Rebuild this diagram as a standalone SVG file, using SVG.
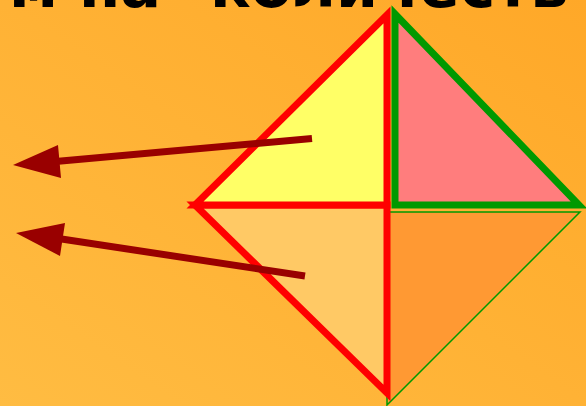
<svg xmlns="http://www.w3.org/2000/svg" width="586" height="406" viewBox="0 0 586 406">
  <defs>
    <linearGradient id="bg" x1="0" y1="1" x2="1" y2="0">
      <stop offset="0" stop-color="#FFBC42"/>
      <stop offset="1" stop-color="#FFA828"/>
    </linearGradient>
    <style>
      .title { font-family: "DejaVu Sans", "Noto Sans", sans-serif; font-weight: bold; font-size: 60px; fill: #000; }
      .redtri { stroke: #FF0000; stroke-width: 7; stroke-linejoin: miter; stroke-miterlimit: 10; }
      .greentri { stroke: #009900; stroke-width: 7; stroke-linejoin: miter; stroke-miterlimit: 10; }
      .thin { stroke: #009900; stroke-width: 1.5; }
      .shaft { stroke: #990000; stroke-width: 7; fill: none; }
      .head { fill: #990000; }
    </style>
  </defs>
  <rect width="586" height="406" fill="url(#bg)"/>
  <text class="title" y="7"><tspan x="9">м на</tspan> <tspan x="210">количеств</tspan></text>
  <g id="tri-bottom-right">
    <polygon class="thin" points="387,212 580,212 387,405" fill="#FF9933"/>
  </g>
  <g id="tri-bottom-left">
    <polygon class="redtri" points="195,205 387,205 387,393" fill="#FFC965"/>
  </g>
  <g id="tri-top-left">
    <polygon class="redtri" points="195,205 387,15 387,205" fill="#FFFF66"/>
  </g>
  <g id="tri-top-right">
    <polygon class="greentri" points="395,14 579,205 395,205" fill="#FF7D7D"/>
  </g>
  <g id="connectors">
    <line class="shaft" x1="312" y1="138.5" x2="50" y2="162"/>
    <polygon class="head" points="13,165 58,145 61,178"/>
    <line class="shaft" x1="305" y1="276" x2="55" y2="238"/>
    <polygon class="head" points="16,233 65,223 60,256"/>
  </g>
</svg>
